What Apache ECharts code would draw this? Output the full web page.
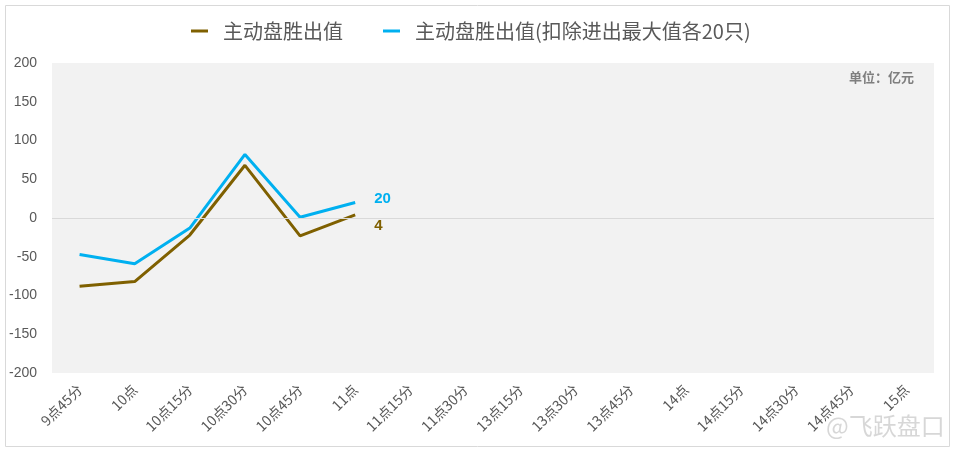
<!DOCTYPE html>
<html><head><meta charset="utf-8">
<script src="https://cdn.jsdelivr.net/npm/echarts@6/dist/echarts.min.js"></script>
<style>html,body{margin:0;padding:0;background:#fff}#c{width:955px;height:452px}</style>
</head><body><div id="c"></div>
<script>
const categories = ['9点45分','10点','10点15分','10点30分','10点45分','11点','11点15分','11点30分','13点15分','13点30分','13点45分','14点','14点15分','14点30分','14点45分','15点'];
const mainValues = [-88, -82, -22, 68, -23, 4];
const adjValues = [-47, -59, -13, 82, 1, 20];
const seriesNames = ['主动盘胜出值', '主动盘胜出值(扣除进出最大值各20只)'];
const chart = echarts.init(document.getElementById('c'));
const font = '"Microsoft YaHei","Noto Sans CJK SC",sans-serif';
function endLbl(color, dy){
  return {show:true, distance:19, offset:[0,dy], fontWeight:'bold', fontSize:15, color:color,
    fontFamily:'Liberation Sans, Arial', formatter: p => String(p.value)};
}
chart.setOption({
  animation:false,
  graphic:[
    {type:'rect', shape:{x:5.5,y:5.5,width:944,height:441}, style:{fill:'none', stroke:'#D9D9D9', lineWidth:1}, z:-10},
    {type:'text', left:849, top:71, style:{text:'单位：亿元', fill:'#7F7F7F', font:'bold 13px '+font}},
    {type:'text', left:826, top:414, style:{text:'@飞跃盘口', fill:'rgba(205,205,205,0.8)', font:'24px '+font}}
  ],
  legend:{top:16, left:186, itemGap:40, itemWidth:17, itemHeight:3, icon:'rect',
    textStyle:{fontSize:20, color:'#595959', fontFamily:font, padding:[0,0,0,10]}, data:seriesNames},
  grid:{left:52, right:21, top:63, bottom:79, show:true, backgroundColor:'#F2F2F2', borderWidth:0},
  xAxis:{type:'category', data:categories, boundaryGap:true,
    axisLine:{show:false}, axisTick:{show:false},
    axisLabel:{rotate:45, interval:0, color:'#595959', fontSize:14, fontFamily:font, margin:14}},
  yAxis:{type:'value', min:-200, max:200, interval:50,
    splitLine:{show:false}, axisLine:{show:false}, axisTick:{show:false},
    axisLabel:{color:'#595959', fontSize:14, fontFamily:'Liberation Sans, Arial', margin:15}},
  series:[
    {name:seriesNames[0], type:'line', data:mainValues, symbol:'none', lineStyle:{color:'#7F6000', width:3}, itemStyle:{color:'#7F6000'},
      endLabel:endLbl('#7F6000', 11),
      markLine:{silent:true, symbol:'none', label:{show:false}, lineStyle:{color:'#D9D9D9', width:1, type:'solid'}, data:[{yAxis:0}]}},
    {name:seriesNames[1], type:'line', data:adjValues, symbol:'none', lineStyle:{color:'#00B0F0', width:3}, itemStyle:{color:'#00B0F0'},
      endLabel:endLbl('#00B0F0', -4)}
  ]
});
</script></body></html>
